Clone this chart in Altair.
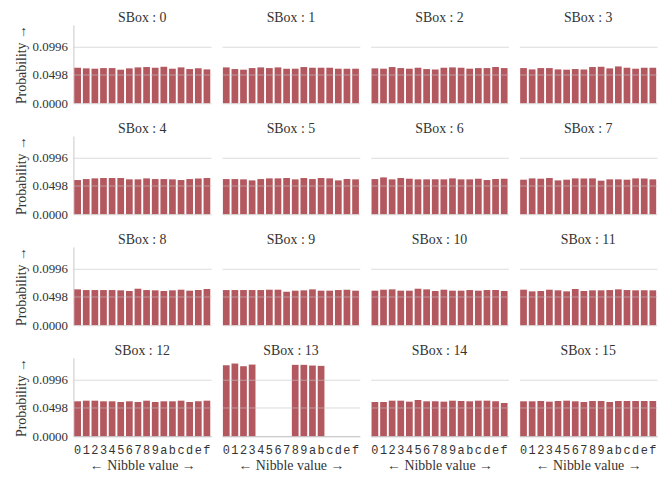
import altair as alt
import pandas as pd

nibbles = list("0123456789abcdef")

sbox_probs = [
    [0.0622, 0.0611, 0.0605, 0.0616, 0.0616, 0.0588, 0.0611, 0.0628, 0.0634, 0.0622, 0.0639, 0.0605, 0.0628, 0.0599, 0.0611, 0.0593],
    [0.0628, 0.0599, 0.0588, 0.0616, 0.0628, 0.0616, 0.0628, 0.0605, 0.0605, 0.0634, 0.0622, 0.0622, 0.0622, 0.0605, 0.0605, 0.0605],
    [0.0611, 0.0605, 0.0634, 0.0616, 0.0605, 0.0622, 0.0599, 0.0593, 0.0622, 0.0628, 0.0622, 0.0605, 0.0616, 0.0616, 0.0634, 0.0616],
    [0.0616, 0.0593, 0.0616, 0.0616, 0.0593, 0.0588, 0.0599, 0.0593, 0.0634, 0.0639, 0.0611, 0.0645, 0.0622, 0.0605, 0.0622, 0.0622],
    [0.0599, 0.0616, 0.0628, 0.0634, 0.0634, 0.0634, 0.0611, 0.0611, 0.0628, 0.0616, 0.0616, 0.0611, 0.0599, 0.0616, 0.0628, 0.0634],
    [0.0616, 0.0616, 0.0611, 0.0593, 0.0616, 0.0628, 0.0628, 0.0634, 0.0611, 0.0634, 0.0616, 0.0634, 0.0628, 0.0593, 0.0616, 0.0611],
    [0.0616, 0.0645, 0.0611, 0.0634, 0.0622, 0.0611, 0.0611, 0.0611, 0.0611, 0.0628, 0.0611, 0.0611, 0.0622, 0.0599, 0.0616, 0.0622],
    [0.0605, 0.0628, 0.0622, 0.0634, 0.0593, 0.0605, 0.0628, 0.0628, 0.0628, 0.0588, 0.0611, 0.0611, 0.0605, 0.0628, 0.0628, 0.0611],
    [0.0628, 0.0616, 0.0616, 0.0616, 0.0616, 0.0611, 0.0599, 0.0639, 0.0616, 0.0611, 0.0599, 0.0611, 0.0622, 0.0605, 0.0616, 0.0634],
    [0.0616, 0.0616, 0.0616, 0.0616, 0.0616, 0.0622, 0.0622, 0.0588, 0.0605, 0.0611, 0.0628, 0.0605, 0.0605, 0.0616, 0.0622, 0.0605],
    [0.0605, 0.0622, 0.0628, 0.0605, 0.0605, 0.0639, 0.0628, 0.0599, 0.0622, 0.0605, 0.0605, 0.0616, 0.0605, 0.0616, 0.0616, 0.0599],
    [0.0622, 0.0593, 0.0599, 0.0622, 0.0611, 0.0593, 0.0634, 0.0599, 0.0611, 0.0611, 0.0616, 0.0628, 0.0616, 0.0611, 0.0611, 0.0611],
    [0.0611, 0.0622, 0.0622, 0.0611, 0.0611, 0.0599, 0.0611, 0.0599, 0.0622, 0.0599, 0.0611, 0.0611, 0.0622, 0.0599, 0.0611, 0.0622],
    [0.1242, 0.1272, 0.1225, 0.1254, 0.0, 0.0, 0.0, 0.0, 0.1249, 0.1249, 0.1237, 0.1231, 0.0, 0.0, 0.0, 0.0],
    [0.0599, 0.0599, 0.0622, 0.0622, 0.0605, 0.0634, 0.0611, 0.0611, 0.0605, 0.0622, 0.0616, 0.0611, 0.0622, 0.0622, 0.0611, 0.0582],
    [0.0611, 0.0611, 0.0616, 0.0605, 0.0616, 0.0622, 0.0611, 0.0599, 0.0616, 0.0616, 0.0599, 0.0616, 0.0616, 0.0616, 0.0616, 0.0616],
]

y_ticks = [0.0, 0.0498, 0.0996]

rows = []
for s, probs in enumerate(sbox_probs):
    for n, p in zip(nibbles, probs):
        rows.append({"sbox": s, "nibble": n, "prob": p})
df = pd.DataFrame(rows)

SERIF = "Liberation Serif"
MONO = "Liberation Mono"

chart = (
    alt.Chart(df)
    .mark_bar(color="#b4585f")
    .encode(
        x=alt.X(
            "nibble:O",
            sort=nibbles,
            scale=alt.Scale(paddingInner=0.22, paddingOuter=0.1),
            axis=alt.Axis(
                title="← Nibble value →",
                labelAngle=0,
                labelFont=MONO,
                labelFontSize=12,
                labelPadding=8,
                titleFont=SERIF,
                titleFontSize=14,
                titleFontWeight="normal",
                titlePadding=4,
                ticks=False,
                grid=False,
            ),
        ),
        y=alt.Y(
            "prob:Q",
            scale=alt.Scale(domain=[0, 0.137], nice=False),
            axis=alt.Axis(
                title="Probability →",
                values=y_ticks,
                format=".4f",
                labelFont=SERIF,
                labelFontSize=13,
                labelPadding=6,
                titleFont=SERIF,
                titleFontSize=14,
                titleFontWeight="normal",
                titlePadding=4,
                ticks=False,
                grid=True,
                gridColor="#c4c4c4",
                gridOpacity=0.6,
                zindex=1,
            ),
        ),
    )
    .properties(width=139, height=79)
    .facet(
        facet=alt.Facet(
            "sbox:O",
            header=alt.Header(
                title=None,
                labelExpr="'SBox : ' + datum.value",
                labelFont=SERIF,
                labelFontSize=14,
                labelColor="#333333",
                labelPadding=0,
            ),
        ),
        columns=4,
        spacing={"row": 19, "column": 11},
    )
    .properties(padding={"left": 6, "top": 1, "right": 5, "bottom": 2})
    .configure_view(stroke=None)
    .configure_axis(
        domainColor="#c8c8c8",
        labelColor="#333333",
        titleColor="#333333",
    )
)

chart.save("out.html", embed_options={"renderer": "svg", "actions": False})
